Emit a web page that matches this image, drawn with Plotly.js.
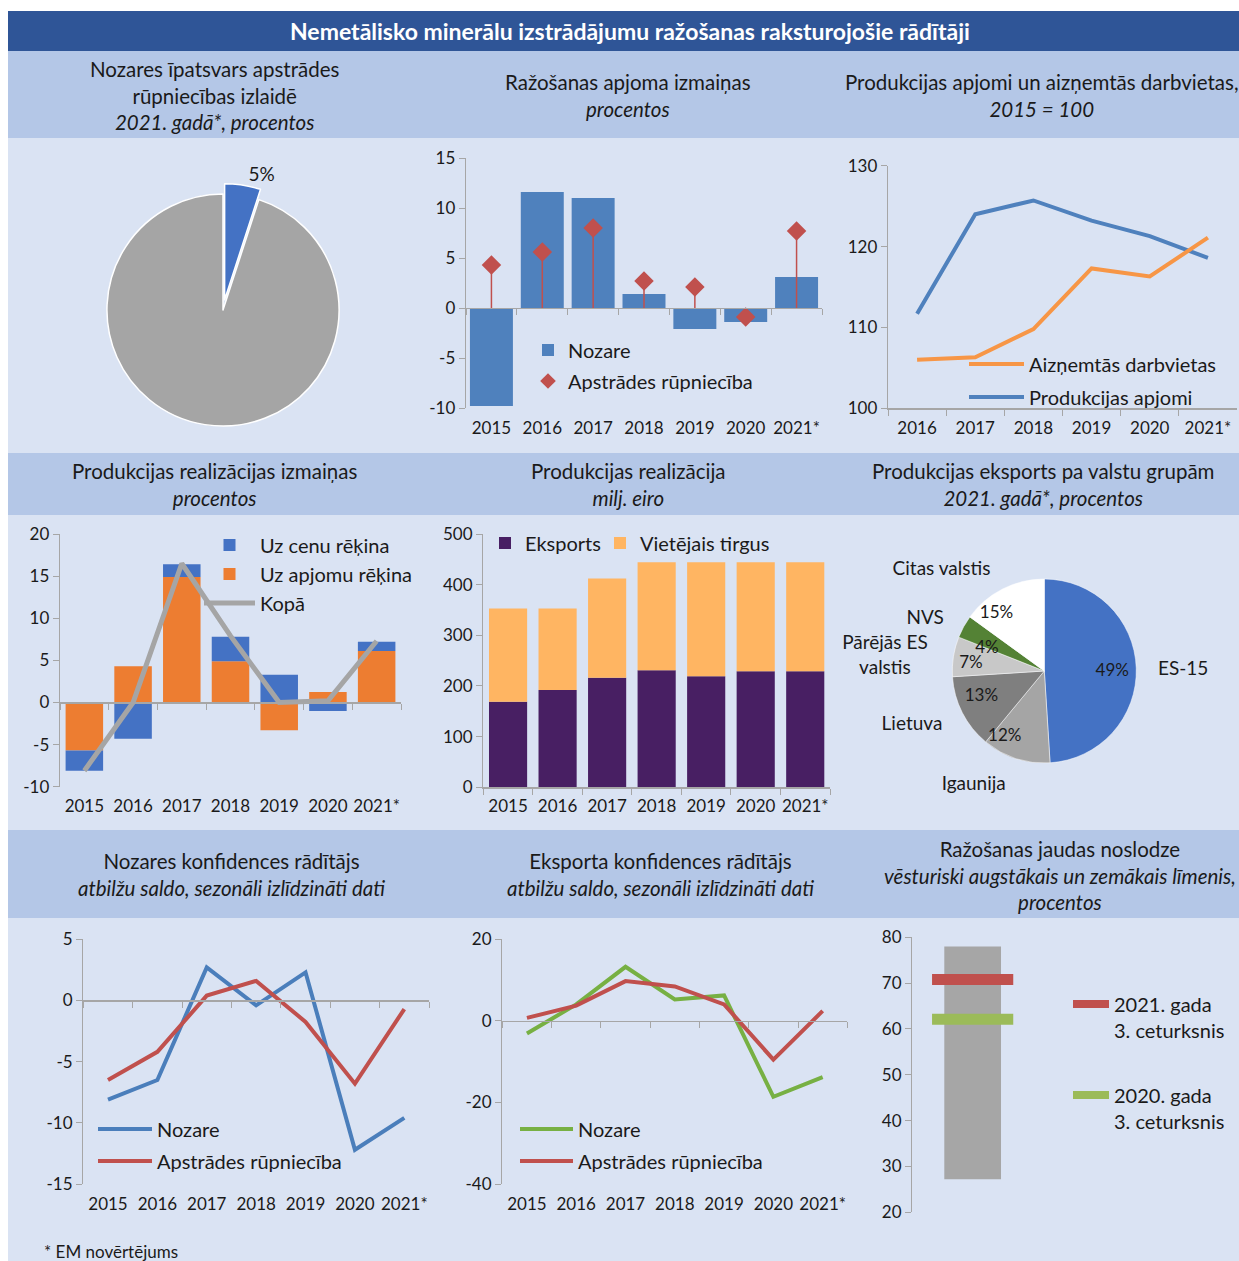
<!DOCTYPE html>
<html><head><meta charset="utf-8">
<script src="https://cdn.plot.ly/plotly-3.0.1.min.js"></script>
<style>html,body{margin:0;padding:0;background:#fff}#chart{width:1239px;height:1261px}</style>
</head><body><div id="chart"></div>
<script>
// ---------------- DATA ----------------
const years = ['2015','2016','2017','2018','2019','2020','2021*'];
const yearsFrom2016 = ['2016','2017','2018','2019','2020','2021*'];

const shareLabels = ['Nemetālisko minerālu izstrādājumu ražošana','Pārējā apstrādes rūpniecība'];
const shareValues = [5, 95];

const prodChangeSector = [-9.8, 11.6, 11.0, 1.4, -2.1, -1.4, 3.1];
const prodChangeManuf  = [4.3, 5.6, 8.0, 2.7, 2.1, -0.9, 7.7];

const outputIndex     = [111.7, 124.0, 125.7, 123.2, 121.3, 118.6];
const employmentIndex = [106.0, 106.3, 109.8, 117.3, 116.3, 121.1];

const salesVolume = [-5.7, 4.3, 14.9, 4.9, -3.3, 1.25, 6.1];
const salesPrice  = [-2.4, -4.3, 1.5, 2.9, 3.3, -1.0, 1.1];
const salesTotal  = [-8.1, 0.0, 16.5, 7.9, 0.0, 0.2, 7.3];

const exportSales   = [169, 192, 216, 231, 219, 229, 229];
const domesticSales = [184, 161, 196, 213, 225, 215, 215];

const exportGroups = ['ES-15','Igaunija','Lietuva','Pārējās ES<br>valstis','NVS','Citas valstis'];
const exportShares = [49, 12, 13, 7, 4, 15];

const confSector = [-8.1, -6.5, 2.7, -0.4, 2.3, -12.2, -9.6];
const confManuf  = [-6.5, -4.2, 0.4, 1.6, -1.75, -6.8, -0.7];

const expConfSector = [-3.1, 4.0, 13.2, 5.2, 6.2, -18.6, -13.8];
const expConfManuf  = [0.7, 3.7, 9.7, 8.4, 4.0, -9.5, 2.4];

const capCategory = ['Jaudas noslodze'];
const capHistMin  = [27.2];
const capHistMax  = [78.0];
const cap2021Q3   = [70.8];
const cap2020Q3   = [62.1];

// ---------------- LAYOUT HELPERS ----------------
const W = 1239, H = 1261;
const FONT = 'Lato, "Open Sans", "Noto Sans", sans-serif';
const AX = '#A6A6A6';
const TXT = '#1a1a1a';
const fx = p => p / W;
const fy = p => 1 - p / H;
function dom(x0, x1, y0, y1) { return {x: [fx(x0), fx(x1)], y: [fy(y1), fy(y0)]}; }

const D2 = dom(466, 822, 158, 408),   R2 = [-10, 15];
const D3 = dom(888, 1237, 165.7, 408.3), R3 = [100, 130];
const D4 = dom(60, 401, 534, 786.7),  R4 = [-10, 20];
const D5 = dom(483.3, 830, 534, 787.3), R5 = [0, 500];
const D7 = dom(83.3, 429, 939.3, 1184), R7 = [-15, 5];
const D8 = dom(502.3, 847.3, 939, 1184.3), R8 = [-40, 20];
const D9 = dom(912.3, 1033, 937.3, 1212.3), R9 = [20, 80];

const tickFont = {family: FONT, size: 17, color: TXT};

function tickSteps(range, step) {
  const out = [];
  for (let v = range[0]; v <= range[1] + 1e-9; v += step) out.push(Math.round(v * 100) / 100);
  return out;
}
function yAx(d, range, dtick, anchor) {
  const tv = tickSteps(range, dtick);
  return {domain: d.y, range: range, tickmode: 'array', tickvals: tv, ticktext: tv.map(String), anchor: anchor,
    showline: true, linecolor: AX, linewidth: 1.3, ticks: 'outside', ticklen: 6, tickcolor: AX,
    showgrid: false, zeroline: false, tickfont: tickFont, fixedrange: true};
}
function xAxZero(d, yr, cats, standoff) {
  const pos = d.y[0] + (0 - yr[0]) / (yr[1] - yr[0]) * (d.y[1] - d.y[0]);
  return {domain: d.x, anchor: 'free', position: pos, type: 'category',
    range: [-0.5, cats.length - 0.5], showline: true, linecolor: AX, linewidth: 1.3,
    ticks: 'outside', tickson: 'boundaries', ticklen: 6, tickcolor: AX, tickangle: 0,
    ticklabelstandoff: standoff, showgrid: false, zeroline: false, tickfont: tickFont, fixedrange: true};
}
function xAxBottom(d, cats, anchor, standoff) {
  return {domain: d.x, anchor: anchor, type: 'category', range: [-0.5, cats.length - 0.5],
    showline: true, linecolor: AX, linewidth: 1.3, ticks: 'outside', tickson: 'boundaries', tickangle: 0,
    ticklen: 6, tickcolor: AX, ticklabelstandoff: standoff || 0, showgrid: false, zeroline: false,
    tickfont: tickFont, fixedrange: true};
}
function leg(textX, yc, iw, extra) {
  return Object.assign({x: fx(textX - (iw + 10)), y: fy(yc), xanchor: 'left', yanchor: 'middle',
    bgcolor: 'rgba(0,0,0,0)', borderwidth: 0, itemwidth: iw,
    font: {family: FONT, size: 20, color: TXT}}, extra || {});
}
function header(xc, yc, html) {
  return {xref: 'paper', yref: 'paper', x: fx(xc), y: fy(yc), xanchor: 'center', yanchor: 'middle',
    text: html, showarrow: false, align: 'center', font: {family: FONT, size: 20.5, color: TXT}};
}
function band(y0, y1, color) {
  return {type: 'rect', xref: 'paper', yref: 'paper', x0: fx(8), x1: 1, y0: fy(y1), y1: fy(y0),
    fillcolor: color, line: {width: 0}, layer: 'below'};
}

// ---------------- TRACES ----------------
const traces = [];

// Panel 1: share pie
traces.push({type: 'pie', labels: shareLabels, values: shareValues, sort: false, direction: 'clockwise',
  rotation: 0, pull: [0.09, 0], marker: {colors: ['#4472C4', '#A5A5A5'], line: {color: '#FFFFFF', width: 1.5}},
  texttemplate: '%{percent:.0%}', textposition: ['outside', 'none'],
  outsidetextfont: {family: FONT, size: 19, color: TXT},
  domain: {x: [fx(96.5), fx(349.5)], y: [fy(436.5), fy(183.5)]}, showlegend: false, hoverinfo: 'none'});

// Panel 2: production change
traces.push({type: 'bar', x: years, y: prodChangeSector, xaxis: 'x', yaxis: 'y', width: 0.845,
  marker: {color: '#4F81BD'}, name: 'Nozare', legend: 'legend', hoverinfo: 'none'});
traces.push({type: 'scatter', mode: 'markers', x: years, y: prodChangeManuf, xaxis: 'x', yaxis: 'y',
  marker: {symbol: 'diamond', size: 15, color: '#C0504D'},
  error_y: {type: 'data', symmetric: false,
    array: prodChangeManuf.map(v => Math.max(-v, 0)),
    arrayminus: prodChangeManuf.map(v => Math.max(v, 0)),
    width: 0, thickness: 1.5, color: '#C0504D'},
  name: 'Apstrādes rūpniecība', legend: 'legend2', hoverinfo: 'none'});

// Panel 3: indices
traces.push({type: 'scatter', mode: 'lines', x: yearsFrom2016, y: outputIndex, xaxis: 'x2', yaxis: 'y2',
  line: {color: '#4F81BD', width: 4}, name: 'Produkcijas apjomi', legend: 'legend4', hoverinfo: 'none'});
traces.push({type: 'scatter', mode: 'lines', x: yearsFrom2016, y: employmentIndex, xaxis: 'x2', yaxis: 'y2',
  line: {color: '#F79646', width: 4}, name: 'Aizņemtās darbvietas', legend: 'legend3', hoverinfo: 'none'});

// Panel 4: sales change decomposition
traces.push({type: 'bar', x: years, y: salesVolume, xaxis: 'x3', yaxis: 'y3', width: 0.77,
  marker: {color: '#ED7D31'}, name: 'Uz apjomu rēķina', legend: 'legend6', hoverinfo: 'none'});
traces.push({type: 'bar', x: years, y: salesPrice, xaxis: 'x3', yaxis: 'y3', width: 0.77,
  marker: {color: '#4472C4'}, name: 'Uz cenu rēķina', legend: 'legend5', hoverinfo: 'none'});
traces.push({type: 'scatter', mode: 'lines', x: years, y: salesTotal, xaxis: 'x3', yaxis: 'y3',
  line: {color: '#A5A5A5', width: 5}, name: 'Kopā', legend: 'legend7', hoverinfo: 'none'});

// Panel 5: sales
traces.push({type: 'bar', x: years, y: exportSales, xaxis: 'x4', yaxis: 'y4', width: 0.77,
  marker: {color: '#481F63'}, name: 'Eksports', legend: 'legend8', hoverinfo: 'none'});
traces.push({type: 'bar', x: years, y: domesticSales, xaxis: 'x4', yaxis: 'y4', width: 0.77,
  marker: {color: '#FFB562'}, name: 'Vietējais tirgus', legend: 'legend9', hoverinfo: 'none'});

// Panel 6: export by country groups
const pieCx = 1044.3, pieCy = 671;
function pieDom(r) { return {x: [fx(pieCx - r), fx(pieCx + r)], y: [fy(pieCy + r), fy(pieCy - r)]}; }
traces.push({type: 'pie', labels: exportGroups, values: exportShares, sort: false, direction: 'clockwise',
  marker: {colors: ['#4472C4', '#A5A5A5', '#7F7F7F', '#C8C8C8', '#548235', '#FFFFFF'], line: {color: '#FFFFFF', width: 0.5}},
  textinfo: 'none', domain: pieDom(92), showlegend: false, hoverinfo: 'none'});
// percentage and name labels, each split into two transparent label rings so neighbours never collide
function labelRing(template, parity, r, size) {
  traces.push({type: 'pie', labels: exportGroups, values: exportShares, sort: false, direction: 'clockwise',
    marker: {colors: exportGroups.map(() => 'rgba(0,0,0,0)'), line: {width: 0}},
    texttemplate: template,
    textposition: exportGroups.map((g, i) => (i % 2 === parity ? 'outside' : 'none')),
    outsidetextfont: {family: FONT, size: size, color: TXT},
    domain: pieDom(r), showlegend: false, hoverinfo: 'none'});
}
labelRing('%{percent:.0%}', 0, 46, 17);
labelRing('%{percent:.0%}', 1, 57, 17);
labelRing('%{label}', 0, 108, 19);
labelRing('%{label}', 1, 106, 19);

// Panel 7: sector confidence
traces.push({type: 'scatter', mode: 'lines', x: years, y: confSector, xaxis: 'x5', yaxis: 'y5',
  line: {color: '#4A7EBB', width: 4}, name: 'Nozare', legend: 'legend10', hoverinfo: 'none'});
traces.push({type: 'scatter', mode: 'lines', x: years, y: confManuf, xaxis: 'x5', yaxis: 'y5',
  line: {color: '#C0504D', width: 4}, name: 'Apstrādes rūpniecība', legend: 'legend11', hoverinfo: 'none'});

// Panel 8: export confidence
traces.push({type: 'scatter', mode: 'lines', x: years, y: expConfSector, xaxis: 'x6', yaxis: 'y6',
  line: {color: '#77B043', width: 4}, name: 'Nozare', legend: 'legend12', hoverinfo: 'none'});
traces.push({type: 'scatter', mode: 'lines', x: years, y: expConfManuf, xaxis: 'x6', yaxis: 'y6',
  line: {color: '#C0504D', width: 4}, name: 'Apstrādes rūpniecība', legend: 'legend13', hoverinfo: 'none'});

// Panel 9: capacity utilisation
traces.push({type: 'bar', x: capCategory, y: capHistMax.map((v, i) => v - capHistMin[i]), base: capHistMin,
  xaxis: 'x7', yaxis: 'y7', width: 0.47, marker: {color: '#A6A6A6'}, showlegend: false, hoverinfo: 'none'});
traces.push({type: 'scatter', mode: 'lines+markers', x: capCategory, y: cap2021Q3, xaxis: 'x7', yaxis: 'y7',
  marker: {symbol: 'line-ew', size: 58, color: '#C0504D', line: {color: '#C0504D', width: 11}},
  line: {color: '#C0504D', width: 8},
  name: '2021. gada<br>3. ceturksnis', legend: 'legend14', hoverinfo: 'none'});
traces.push({type: 'scatter', mode: 'lines+markers', x: capCategory, y: cap2020Q3, xaxis: 'x7', yaxis: 'y7',
  marker: {symbol: 'line-ew', size: 58, color: '#9BBB59', line: {color: '#9BBB59', width: 11}},
  line: {color: '#9BBB59', width: 8},
  name: '2020. gada<br>3. ceturksnis', legend: 'legend15', hoverinfo: 'none'});

// ---------------- LAYOUT ----------------
const layout = {
  width: W, height: H, margin: {l: 0, r: 0, t: 0, b: 0},
  paper_bgcolor: '#FFFFFF', plot_bgcolor: 'rgba(0,0,0,0)',
  font: {family: FONT, color: TXT}, barmode: 'relative', hovermode: false,

  xaxis: xAxZero(D2, R2, years, 104),            yaxis: yAx(D2, R2, 5, 'x'),
  xaxis2: xAxBottom(D3, yearsFrom2016, 'y2', 4),  yaxis2: yAx(D3, R3, 10, 'x2'),
  xaxis3: xAxZero(D4, R4, years, 88),             yaxis3: yAx(D4, R4, 5, 'x3'),
  xaxis4: xAxBottom(D5, years, 'y4', 3),          yaxis4: yAx(D5, R5, 100, 'x4'),
  xaxis5: xAxZero(D7, R7, years, 188),            yaxis5: yAx(D7, R7, 5, 'x5'),
  xaxis6: xAxZero(D8, R8, years, 168),            yaxis6: yAx(D8, R8, 20, 'x6'),
  xaxis7: {domain: D9.x, anchor: 'y7', type: 'category', range: [-0.5, 0.5], visible: false, fixedrange: true},
  yaxis7: yAx(D9, R9, 10, 'x7'),

  legend:   leg(568, 350, 30),
  legend2:  leg(568, 381, 30, {itemsizing: 'constant'}),
  legend3:  leg(1029, 364, 55),
  legend4:  leg(1029, 397, 55),
  legend5:  leg(260, 545, 51),
  legend6:  leg(260, 574, 51),
  legend7:  leg(260, 603, 51),
  legend8:  leg(525, 543, 30),
  legend9:  leg(640, 543, 30),
  legend10: leg(157, 1129, 54),
  legend11: leg(157, 1161, 54),
  legend12: leg(578, 1129, 53),
  legend13: leg(578, 1161, 53),
  legend14: leg(1114, 1017, 36, {valign: 'top'}),
  legend15: leg(1114, 1108, 36, {valign: 'top'}),

  shapes: [
    {type: 'rect', xref: 'paper', yref: 'paper', x0: fx(8), x1: 1, y0: fy(51), y1: fy(11),
      fillcolor: '#2F5597', line: {width: 0}, layer: 'below'},
    band(51, 138, '#B4C7E7'),
    band(138, 453, '#DAE3F3'),
    band(453, 515, '#B4C7E7'),
    band(515, 830, '#DAE3F3'),
    band(830, 918, '#B4C7E7'),
    band(918, 1261, '#DAE3F3')
  ],
  annotations: [
    {xref: 'paper', yref: 'paper', x: fx(630), y: fy(31), xanchor: 'center', yanchor: 'middle', showarrow: false,
      text: '<b>Nemetālisko minerālu izstrādājumu ražošanas raksturojošie rādītāji</b>',
      font: {family: FONT, size: 23, color: '#FFFFFF'}},
    header(214, 96, 'Nozares īpatsvars apstrādes<br>rūpniecības izlaidē<br><i>2021. gadā*, procentos</i>'),
    header(628, 96, 'Ražošanas apjoma izmaiņas<br><i>procentos</i>'),
    header(1042, 96, 'Produkcijas apjomi un aizņemtās darbvietas,<br><i>2015 = 100</i>'),
    header(214, 485, 'Produkcijas realizācijas izmaiņas<br><i>procentos</i>'),
    header(628, 485, 'Produkcijas realizācija<br><i>milj. eiro</i>'),
    header(1043, 485, 'Produkcijas eksports pa valstu grupām<br><i>2021. gadā*, procentos</i>'),
    header(231, 874, 'Nozares konfidences rādītājs<br><i>atbilžu saldo, sezonāli izlīdzināti dati</i>'),
    header(660, 874, 'Eksporta konfidences rādītājs<br><i>atbilžu saldo, sezonāli izlīdzināti dati</i>'),
    header(1060, 875, 'Ražošanas jaudas noslodze<br><i>vēsturiski augstākais un zemākais līmenis,</i><br><i>procentos</i>'),
    {xref: 'paper', yref: 'paper', x: fx(42), y: fy(1251), xanchor: 'left', yanchor: 'middle', showarrow: false,
      text: '* EM novērtējums', font: {family: FONT, size: 17, color: TXT}}
  ]
};

Plotly.newPlot('chart', traces, layout, {staticPlot: true, displayModeBar: false});
</script>
</body></html>
